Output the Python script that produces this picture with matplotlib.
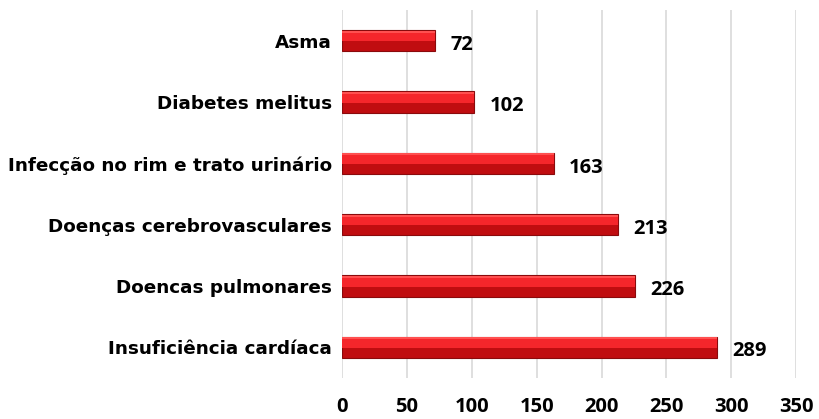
import numpy as np
import matplotlib.pyplot as plt

categories = ["Asma", "Diabetes melitus", "Infecção no rim e trato urinário",
              "Doenças cerebrovasculares", "Doencas pulmonares", "Insuficiência cardíaca"]
values = [72, 102, 163, 213, 226, 289]
xticks = [0, 50, 100, 150, 200, 250, 300, 350]

plt.rcParams['font.family'] = ['Open Sans', 'DejaVu Sans']

fig = plt.figure(figsize=(8.2, 4.19), dpi=100)
ax = fig.add_axes([0.417, 0.098, 0.554, 0.878])

y = np.arange(len(categories))
h = 0.35
# main bar (lower, darker half)
ax.barh(y, values, height=h, color='#c00d10', edgecolor='#8a0a0c', linewidth=0.8, zorder=3)
# bright upper half for the bevel look
ax.barh(y - h * 0.22, values, height=h * 0.5, color='#f5262b', linewidth=0, zorder=4)
# thin highlight near top edge
ax.barh(y - h * 0.42, values, height=h * 0.1, color='#ff5050', linewidth=0, zorder=5)

for yi, v in zip(y, values):
    ax.annotate(str(v), (v, yi), xytext=(11, -3), textcoords='offset points',
                va='center', ha='left', fontsize=14.5, fontweight='bold')

ax.set_yticks(y)
ax.set_yticklabels(categories, fontsize=13.2, fontweight='bold', family='DejaVu Sans')
ax.set_ylim(len(categories) - 0.5, -0.5)
ax.set_xlim(0, 350)
ax.set_xticks(xticks)
ax.set_xticklabels([str(t) for t in xticks], fontsize=14.5, fontweight='bold')
ax.tick_params(axis='both', length=0)
ax.tick_params(axis='x', pad=14)
ax.tick_params(axis='y', pad=7)
ax.grid(axis='x', color='#d9d9d9', linewidth=1.2, zorder=0)
for s in ax.spines.values():
    s.set_visible(False)

fig.savefig('out.png', dpi=100)
